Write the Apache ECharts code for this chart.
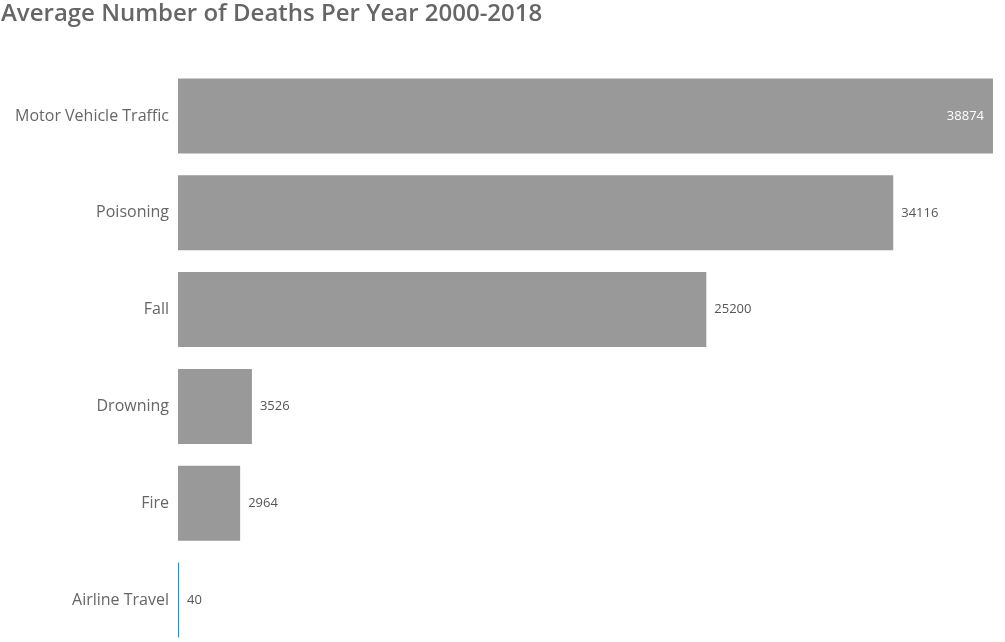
<!DOCTYPE html>
<html>
<head>
  <meta charset="UTF-8">
  <style>
    body { margin: 0; background: #fff; }
  </style>
  <script src="https://cdn.jsdelivr.net/npm/echarts@6/dist/echarts.min.js"></script>
</head>
<body>
  <div id="chart" style="width: 1005px; height: 642px;"></div>
  <script>
    // categories top to bottom
    const causes = ['Motor Vehicle Traffic', 'Poisoning', 'Fall', 'Drowning', 'Fire', 'Airline Travel']
    const avgDeaths = [38874, 34116, 25200, 3526, 2964, 40]

    const myChart = echarts.init(document.getElementById('chart'))

    const barData = avgDeaths.map((v, i) => {
      const item = { value: v }
      if (i === 0) {
        item.label = { position: 'insideRight', color: '#ffffff', distance: 9 }
      }
      if (causes[i] === 'Airline Travel') {
        item.itemStyle = { color: '#2f80d0' }
      }
      return item
    })

    const options = {
      animation: false,
      title: {
        text: 'Average Number of Deaths Per Year 2000-2018',
        left: 1,
        top: 0,
        padding: [2, 0],
        textStyle: {
          fontFamily: 'Open Sans',
          fontSize: 24,
          fontWeight: 600,
          color: '#666666'
        }
      },
      // grid spans first to last category centre (boundaryGap off) so the
      // last band can run past the bottom edge like the original
      grid: {
        left: 178,
        right: 12,
        top: 116,
        height: 484,
        containLabel: false
      },
      xAxis: {
        type: 'value',
        min: 0,
        max: 38874,
        show: false
      },
      yAxis: {
        type: 'category',
        inverse: true,
        boundaryGap: false,
        data: causes,
        axisLine: { show: false },
        axisTick: { show: false },
        splitLine: { show: false },
        axisLabel: {
          margin: 9,
          fontFamily: 'Open Sans',
          fontSize: 16,
          color: '#666666'
        }
      },
      series: [
        {
          type: 'bar',
          data: barData,
          clip: false,
          barCategoryGap: '22.5%',
          barMinHeight: 1,
          itemStyle: { color: '#999999' },
          label: {
            show: true,
            position: 'right',
            distance: 8,
            fontFamily: 'Open Sans',
            fontSize: 13,
            color: '#555555'
          }
        }
      ]
    }

    myChart.setOption(options)
  </script>
</body>
</html>
